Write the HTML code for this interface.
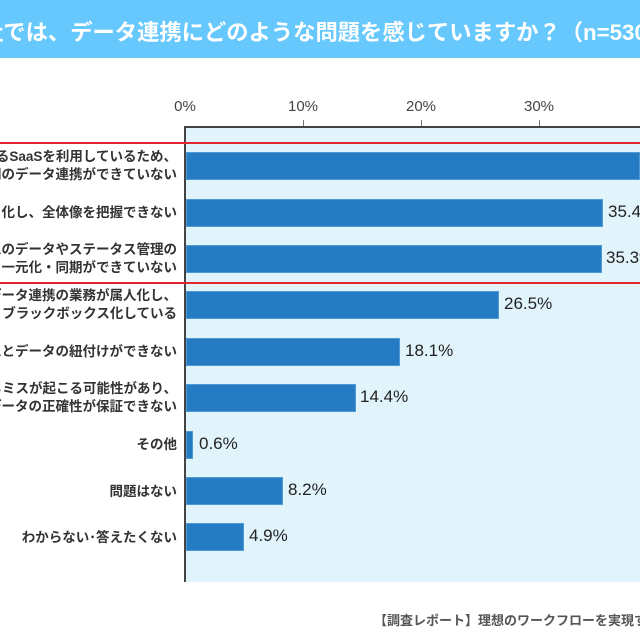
<!DOCTYPE html>
<html><head><meta charset="utf-8"><style>
*{margin:0;padding:0}
body{width:640px;height:630px;overflow:hidden;background:#fff;position:relative;font-family:"Liberation Sans","Noto Sans CJK JP",sans-serif;}
.hdr{position:absolute;left:0;top:0;width:640px;height:58px;background:#66c8fc;overflow:hidden}
.hdr span{position:absolute;left:-19px;top:15px;font-size:22.3px;font-weight:bold;color:#fff;white-space:nowrap}
.plot{position:absolute;left:185px;top:127px;width:455px;height:455px;background:#e1f3fb}
.ax{position:absolute;left:184px;top:126px;width:2px;height:456px;background:#444}
.axt{position:absolute;left:184px;top:126px;width:456px;height:2px;background:#444}
.tk{position:absolute;top:120px;width:1px;height:7px;background:#777}
.tl{position:absolute;top:98px;font-size:15px;color:#444;width:60px;margin-left:-30px;text-align:center}
.red{position:absolute;left:0;width:640px;height:2px;background:#e0262e}
.bar{position:absolute;left:186px;height:28px;background:#267cc3;border:1px solid #4f9ad6;box-sizing:border-box}
.val{position:absolute;font-size:17px;color:#222;white-space:nowrap}
.lab{position:absolute;right:463px;font-size:13.5px;font-weight:bold;color:#333;text-align:right;white-space:nowrap;line-height:18px}
.ft{position:absolute;left:374px;top:610px;font-size:13px;color:#555;white-space:nowrap;font-weight:bold}
.clip{position:absolute;left:0;top:0;width:640px;height:630px;overflow:hidden}
</style></head><body><div class="clip">
<div class="hdr"><span>社では、データ連携にどのような問題を感じていますか？（n=530）</span></div>
<div class="plot"></div>
<div class="tl" style="left:185px">0%</div>
<div class="tl" style="left:303px">10%</div>
<div class="tl" style="left:421px">20%</div>
<div class="tl" style="left:539px">30%</div>
<div class="tk" style="left:303px"></div>
<div class="tk" style="left:421px"></div>
<div class="tk" style="left:539px"></div>
<div class="axt"></div>
<div class="ax"></div>
<div class="red" style="top:142px"></div>
<div class="red" style="top:282px"></div>

<div class="bar" style="top:152px;width:454px"></div>
<div class="bar" style="top:199px;width:417px"></div><div class="val" style="left:608px;top:202px">35.4%</div>
<div class="bar" style="top:245px;width:416px"></div><div class="val" style="left:606px;top:248px">35.3%</div>
<div class="bar" style="top:291px;width:313px"></div><div class="val" style="left:504px;top:294px">26.5%</div>
<div class="bar" style="top:338px;width:214px"></div><div class="val" style="left:405px;top:341px">18.1%</div>
<div class="bar" style="top:384px;width:170px"></div><div class="val" style="left:360px;top:387px">14.4%</div>
<div class="bar" style="top:431px;width:7px"></div><div class="val" style="left:199px;top:434px">0.6%</div>
<div class="bar" style="top:477px;width:97px"></div><div class="val" style="left:288px;top:480px">8.2%</div>
<div class="bar" style="top:523px;width:58px"></div><div class="val" style="left:249px;top:526px">4.9%</div>

<div class="lab" style="top:148px">部門ごとに異なるSaaSを利用しているため、<br>部門間のデータ連携ができていない</div>
<div class="lab" style="top:204px">データがサイロ化し、全体像を把握できない</div>
<div class="lab" style="top:241px">複数システムのデータやステータス管理の<br>一元化・同期ができていない</div>
<div class="lab" style="top:287px">データ連携の業務が属人化し、<br>ブラックボックス化している</div>
<div class="lab" style="top:343px">他システムとデータの紐付けができない</div>
<div class="lab" style="top:380px">手作業によるミスが起こる可能性があり、<br>データの正確性が保証できない</div>
<div class="lab" style="top:436px">その他</div>
<div class="lab" style="top:483px">問題はない</div>
<div class="lab" style="top:529px">わからない･答えたくない</div>
<div class="ft">【調査レポート】理想のワークフローを実現するために</div>
</div></body></html>
